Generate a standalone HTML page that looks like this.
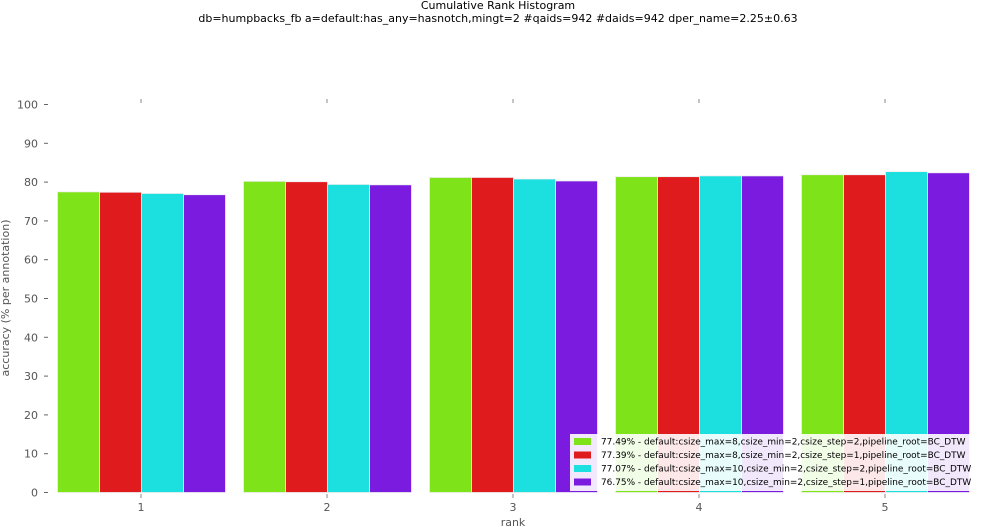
<!DOCTYPE html>
<html><head><meta charset="utf-8"><style>
body{margin:0;background:#fff;}
svg{display:block;font-family:"DejaVu Sans","Liberation Sans",sans-serif;}
</style></head><body>
<svg id="c" width="983" height="527" xmlns="http://www.w3.org/2000/svg">
<text x="498" y="9" font-size="11" text-anchor="middle" fill="#000">Cumulative Rank Histogram</text>
<text x="498" y="22" font-size="11" text-anchor="middle" fill="#000">db=humpbacks_fb a=default:has_any=hasnotch,mingt=2 #qaids=942 #daids=942 dper_name=2.25±0.63</text>
<text transform="translate(9,298) rotate(-90)" font-size="11" text-anchor="middle" fill="#555">accuracy (% per annotation)</text>
<text x="513" y="526" font-size="11" text-anchor="middle" fill="#555">rank</text>
<g id="yt"></g><g id="xt"></g><g id="bars"></g><g id="legend"></g>
</svg>
<script>
const categories = [1, 2, 3, 4, 5];
const seriesNames = [
 "77.49% - default:csize_max=8,csize_min=2,csize_step=2,pipeline_root=BC_DTW",
 "77.39% - default:csize_max=8,csize_min=2,csize_step=1,pipeline_root=BC_DTW",
 "77.07% - default:csize_max=10,csize_min=2,csize_step=2,pipeline_root=BC_DTW",
 "76.75% - default:csize_max=10,csize_min=2,csize_step=1,pipeline_root=BC_DTW"];
const seriesA = [77.49, 80.2, 81.2, 81.4, 81.9];
const seriesB = [77.39, 80.1, 81.2, 81.4, 81.9];
const seriesC = [77.07, 79.4, 80.8, 81.6, 82.7];
const seriesD = [76.75, 79.3, 80.3, 81.6, 82.4];
const yTicks = [0, 10, 20, 30, 40, 50, 60, 70, 80, 90, 100];
const colors = ["#7fe31a", "#e01b1e", "#1be0df", "#7c1be0"];
const allSeries = [seriesA, seriesB, seriesC, seriesD];
const NS = "http://www.w3.org/2000/svg";
const y = v => 492.5 - v * 3.88;
const xc = c => 141 + (c - 1) * 186;
const BW = 42;
function mk(t, a, p) { const e = document.createElementNS(NS, t); for (const k in a) e.setAttribute(k, a[k]); p.appendChild(e); return e; }
const yt = document.getElementById('yt');
yTicks.forEach(t => {
  const l = mk('line', {x1: 44, x2: 48, y1: y(t), y2: y(t), stroke: '#666'}, yt);
  
  
  const tx = mk('text', {x: 38, y: y(t) + 4, 'font-size': 11, 'text-anchor': 'end', fill: '#555'}, yt);
  tx.textContent = t;
  
  
});
const xt = document.getElementById('xt');
categories.forEach(c => {
  const l = mk('line', {x1: xc(c), x2: xc(c), y1: 494, y2: 498, stroke: '#888'}, xt);
  
  
  const l2 = mk('line', {x1: xc(c), x2: xc(c), y1: 99, y2: 103, stroke: '#888'}, xt);
  
  
  const tx = mk('text', {x: xc(c), y: 511, 'font-size': 11, 'text-anchor': 'middle', fill: '#555'}, xt);
  tx.textContent = c;
  
  
});
const bars = document.getElementById('bars');
allSeries.forEach((s, si) => {
  s.forEach((v, ci) => {
    const x0 = xc(categories[ci]) - 2 * BW + si * BW;
    const r = mk('rect', {x: x0 + 0.5, y: y(v), width: BW, height: y(0) - y(v), fill: colors[si], stroke: '#eee', 'stroke-width': 0.8}, bars);
    
    
  });
});
const lg = document.getElementById('legend');
const box = mk('rect', {x: 570, y: 434, width: 402, height: 57, fill: '#fff', 'fill-opacity': 0.9}, lg);


seriesNames.forEach((n, i) => {
  const yy = 441 + i * 13.5;
  const p = mk('rect', {x: 574, y: yy - 3, width: 17, height: 7, fill: colors[i]}, lg);
  
  
  const t = mk('text', {x: 601, y: yy + 3.5, 'font-size': 8.95, fill: '#000'}, lg);
  t.textContent = n;
  
  
});
</script>
</body></html>
